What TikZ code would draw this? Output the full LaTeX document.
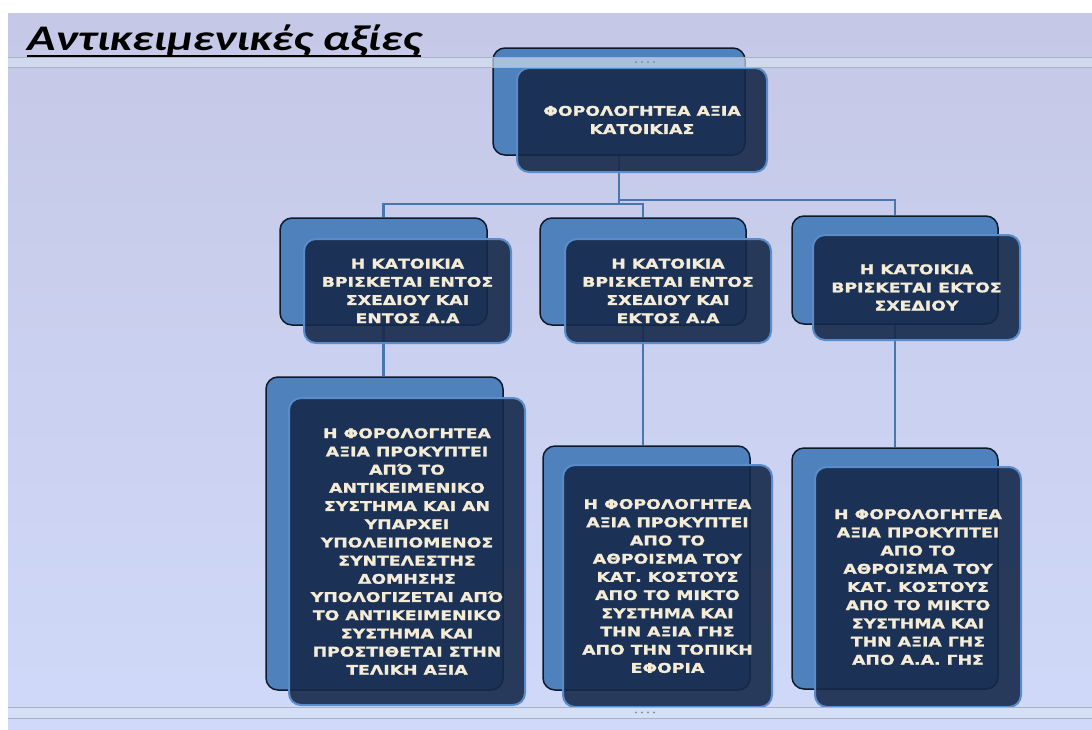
\documentclass[tikz,border=0pt]{standalone}
\usepackage{fontspec}
\newfontfamily\boxfont[FakeStretch=1.3,FakeBold=1.5]{DejaVu Sans Bold}
\newfontfamily\titlefont[FakeStretch=1.3]{Carlito Bold Italic}
\definecolor{bgtop}{HTML}{C5C8E6}
\definecolor{bgbot}{HTML}{D0D9F9}
\definecolor{backblue}{HTML}{4F81BD}
\definecolor{backedge}{HTML}{0E1A2C}
\definecolor{navy}{HTML}{16294A}
\definecolor{frontedge}{HTML}{5A8CCB}
\definecolor{cream}{HTML}{F4ECD6}
\definecolor{connc}{HTML}{4A76B0}
\definecolor{bandc}{HTML}{D8E3F4}
\definecolor{bandline}{HTML}{A8B4C2}
\definecolor{dotc}{HTML}{8391A3}
\tikzset{
  backbox/.style={draw=backedge, line width=1.5pt, fill=backblue, rounded corners=12pt, inner sep=0pt},
  frontbox/.style={draw=frontedge, line width=2pt, fill=navy, fill opacity=0.9, text opacity=1, rounded corners=12pt, inner sep=0pt, align=center, text=cream, font=\boxfont\fontsize{13.3}{18.2}\selectfont},
  conn/.style={draw=connc, line width=2.5pt},
  band/.style={fill=bandc, fill opacity=0.65, draw=none},
}
\begin{document}
\begin{tikzpicture}[x=1pt,y=-1pt]
\useasboundingbox (0,0) rectangle (1092,729);
\fill[white] (0,0) rectangle (1092,729);
\shade[top color=bgtop, bottom color=bgbot] (8,13) rectangle (1092,729);

% back boxes
\node[backbox, minimum width=252pt, minimum height=107pt] (topb) at (619,101.5) {};
\node[backbox, minimum width=207pt, minimum height=107pt] (l2ab) at (383.5,271.5) {};
\node[backbox, minimum width=206pt, minimum height=107pt] (l2bb) at (643,271.5) {};
\node[backbox, minimum width=206pt, minimum height=108pt] (l2cb) at (895,270) {};
\node[backbox, minimum width=237pt, minimum height=313pt] (l3ab) at (384.5,533.5) {};
\node[backbox, minimum width=207pt, minimum height=244pt] (l3bb) at (646.5,568) {};
\node[backbox, minimum width=206pt, minimum height=241pt] (l3cb) at (895,568.5) {};

% connectors
\draw[conn] (topb.south) -- ++(0,48) coordinate (busl) -| (l2ab.north);
\draw[conn] (busl) -| (l2bb.north);
\draw[conn] (topb.south) ++(0,44) coordinate (busr) -| (l2cb.north);
\draw[conn] (l2ab.south) -- (l2ab.south |- l3ab.north);
\draw[conn] (l2bb.south) -- (l2bb.south |- l3bb.north);
\draw[conn] (l2cb.south) -- (l2cb.south |- l3cb.north);

% front boxes
\node[frontbox, minimum width=250pt, minimum height=104pt] (topf) at (642,120)
  {ΦΟΡΟΛΟΓΗΤΕΑ ΑΞΙΑ\\ΚΑΤΟΙΚΙΑΣ};
\node[frontbox, minimum width=207pt, minimum height=104pt] (l2af) at (407.5,291)
  {Η ΚΑΤΟΙΚΙΑ\\ΒΡΙΣΚΕΤΑΙ ΕΝΤΟΣ\\ΣΧΕΔΙΟΥ ΚΑΙ\\ΕΝΤΟΣ Α.Α};
\node[frontbox, minimum width=206pt, minimum height=104pt] (l2bf) at (668,291)
  {Η ΚΑΤΟΙΚΙΑ\\ΒΡΙΣΚΕΤΑΙ ΕΝΤΟΣ\\ΣΧΕΔΙΟΥ ΚΑΙ\\ΕΚΤΟΣ Α.Α};
\node[frontbox, minimum width=207pt, minimum height=105pt] (l2cf) at (916.5,287.5)
  {Η ΚΑΤΟΙΚΙΑ\\ΒΡΙΣΚΕΤΑΙ ΕΚΤΟΣ\\ΣΧΕΔΙΟΥ};
\node[frontbox, minimum width=236pt, minimum height=307pt] (l3af) at (407,551.5)
  {Η ΦΟΡΟΛΟΓΗΤΕΑ\\ΑΞΙΑ ΠΡΟΚΥΠΤΕΙ\\ΑΠΌ ΤΟ\\ΑΝΤΙΚΕΙΜΕΝΙΚΟ\\ΣΥΣΤΗΜΑ ΚΑΙ ΑΝ\\ΥΠΑΡΧΕΙ\\ΥΠΟΛΕΙΠΟΜΕΝΟΣ\\ΣΥΝΤΕΛΕΣΤΗΣ\\ΔΟΜΗΣΗΣ\\ΥΠΟΛΟΓΙΖΕΤΑΙ ΑΠΌ\\ΤΟ ΑΝΤΙΚΕΙΜΕΝΙΚΟ\\ΣΥΣΤΗΜΑ ΚΑΙ\\ΠΡΟΣΤΙΘΕΤΑΙ ΣΤΗΝ\\ΤΕΛΙΚΗ ΑΞΙΑ};
\node[frontbox, minimum width=209pt, minimum height=242pt] (l3bf) at (667.5,586)
  {Η ΦΟΡΟΛΟΓΗΤΕΑ\\ΑΞΙΑ ΠΡΟΚΥΠΤΕΙ\\ΑΠΟ ΤΟ\\ΑΘΡΟΙΣΜΑ ΤΟΥ\\ΚΑΤ. ΚΟΣΤΟΥΣ\\ΑΠΟ ΤΟ ΜΙΚΤΟ\\ΣΥΣΤΗΜΑ ΚΑΙ\\ΤΗΝ ΑΞΙΑ ΓΗΣ\\ΑΠΟ ΤΗΝ ΤΟΠΙΚΗ\\ΕΦΟΡΙΑ};
\node[frontbox, minimum width=206pt, minimum height=240pt] (l3cf) at (918,587)
  {Η ΦΟΡΟΛΟΓΗΤΕΑ\\ΑΞΙΑ ΠΡΟΚΥΠΤΕΙ\\ΑΠΟ ΤΟ\\ΑΘΡΟΙΣΜΑ ΤΟΥ\\ΚΑΤ. ΚΟΣΤΟΥΣ\\ΑΠΟ ΤΟ ΜΙΚΤΟ\\ΣΥΣΤΗΜΑ ΚΑΙ\\ΤΗΝ ΑΞΙΑ ΓΗΣ\\ΑΠΟ Α.Α. ΓΗΣ};

% bands
\fill[band] (8,57) rectangle (1092,67);
\draw[bandline, line width=1pt] (8,57) -- (1092,57);
\draw[bandline, line width=1pt] (8,67) -- (1092,67);
\fill[band] (8,707) rectangle (1092,718);
\draw[bandline, line width=1pt] (8,707) -- (1092,707);
\draw[bandline, line width=1pt] (8,718) -- (1092,718);
\foreach \dx in {636,642,648,654} {
  \fill[dotc] (\dx,62) circle (1.2pt);
  \fill[dotc] (\dx,712.5) circle (1.2pt);
}

% title
\node[anchor=base west, inner sep=0pt, font=\titlefont\fontsize{36}{40}\selectfont] (title) at (27,50) {Αντικειμενικές αξίες};
\draw[black, line width=2pt] (27,56) -- (title.east |- 0,56);
\end{tikzpicture}
\end{document}
